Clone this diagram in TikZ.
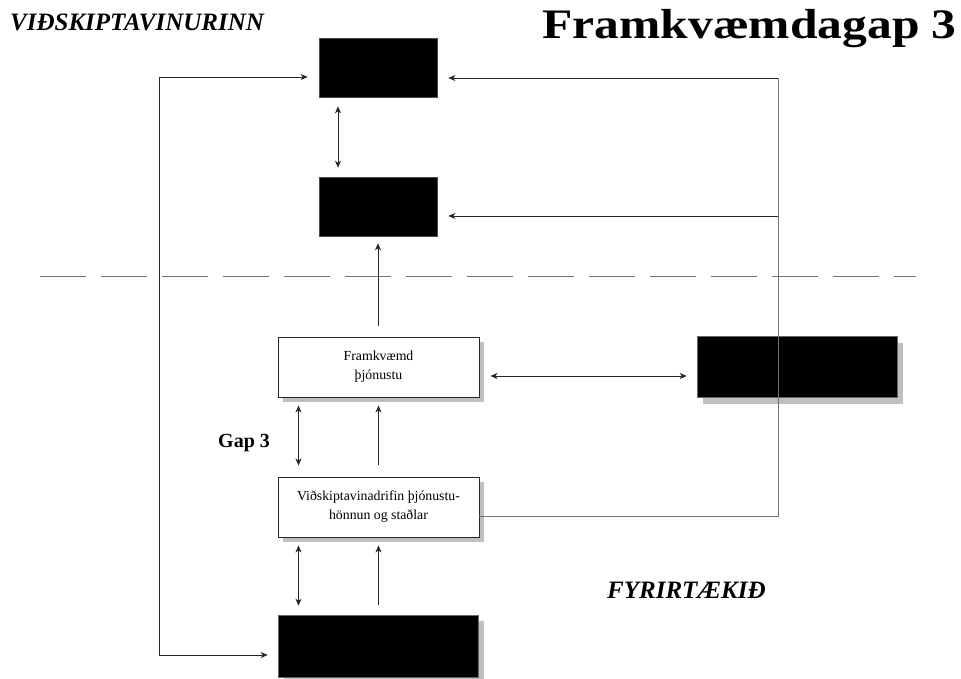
\documentclass[tikz,border=0pt]{standalone}
\usepackage{fontspec}
\setmainfont{Liberation Serif}
\usetikzlibrary{arrows.meta,shadows,calc}
\begin{document}
\begin{tikzpicture}[x=1pt,y=-1pt,
  ln/.style={draw=black!85,line width=0.9pt},
  tip/.style={-{Stealth[length=7pt,width=6pt,inset=2pt]}},
  dtip/.style={{Stealth[length=7pt,width=6pt,inset=2pt]}-{Stealth[length=7pt,width=6pt,inset=2pt]}},
  blk/.style={draw=black!70,fill=black,line width=0.6pt,minimum width=118pt,minimum height=59pt,inner sep=0pt},
  wbox/.style={draw=black!85,fill=white,line width=0.9pt,minimum width=201pt,minimum height=60pt,inner sep=0pt,align=center,
    font=\fontsize{13.8}{19}\selectfont,
    drop shadow={fill=black!25,opacity=1,shadow xshift=5pt,shadow yshift=-5pt}},
  bbox/.style={draw=black!60,fill=black,line width=0.6pt,minimum width=200pt,minimum height=61pt,inner sep=0pt,
    drop shadow={fill=black!25,opacity=1,shadow xshift=6pt,shadow yshift=-6pt}},
  lbl/.style={inner sep=0pt,font=\bfseries\itshape\fontsize{25}{29}\selectfont}
]
\useasboundingbox (0,0) rectangle (961,679);

% dashed separator
\draw[draw=black!55,line width=0.9pt,dash pattern=on 46pt off 15pt] (40,276) -- (916,276);

% boxes
\node[blk] (t1) at (378,67.5) {};
\node[blk] (t2) at (378,206.5) {};
\node[wbox] (fr) at (378.5,367) {Framkvæmd\\þjónustu};
\node[wbox] (vd) at (378.5,507) {Viðskiptavinadrifin þjónustu-\\hönnun og staðlar};
\node[bbox] (rb) at (797,367) {};
\node[bbox,minimum height=62pt] (bb) at (378,646) {};

% texts
\node[lbl,anchor=base west] (cust) at (10,31) {VIÐSKIPTAVINURINN};
\node[inner sep=0pt,anchor=base east,xscale=1.18,font=\bfseries\fontsize{42}{46}\selectfont] (title) at (957,39) {Framkvæmdagap 3};
\node[inner sep=0pt,anchor=base west,font=\bfseries\fontsize{20}{23}\selectfont] (gap) at (218,447) {Gap 3};
\node[lbl,anchor=base west] (firm) at (607,598) {FYRIRTÆKIÐ};

% coordinates
\coordinate (rtop) at (778,78);
\coordinate (rmid) at (778,216);
\coordinate (ltop) at (159,77);
\coordinate (lbot) at (159,655);

% connectors
\draw[ln,dtip,shorten <=9pt,shorten >=9pt] ([xshift=-40pt]t1.south) -- ([xshift=-40pt]t2.north);
\draw[ln,tip,shorten <=11pt,shorten >=7pt] ([xshift=-0.5pt]fr.north) -- (t2.south);
\draw[ln,dtip,shorten <=11pt,shorten >=10pt] ([yshift=-9pt]fr.east) -- ([yshift=-9pt]rb.west);
\draw[ln,dtip,shorten <=8pt,shorten >=11pt] ([xshift=-80pt]fr.south) -- ([xshift=-80pt]vd.north);
\draw[ln,tip,shorten <=12pt,shorten >=8pt] (vd.north) -- (fr.south);
\draw[ln,dtip,shorten <=8pt,shorten >=9pt] ([xshift=-80pt]vd.south) -- ([xshift=-80pt]vd.south |- bb.north);
\draw[ln,tip,shorten <=10pt,shorten >=8pt] (vd.south |- bb.north) -- (vd.south);

\draw[ln,draw=black!55] ([yshift=-9pt]vd.east) -| (rtop);
\draw[ln,tip,shorten >=11pt] (rtop) -- (t1.east |- rtop);
\draw[ln,tip,shorten >=11pt] (rmid) -- (t2.east |- rmid);
\draw[ln,dtip,shorten <=11pt,shorten >=10pt] (t1.west |- ltop) -- (ltop) -- (lbot) -- (bb.west |- lbot);
\end{tikzpicture}
\end{document}
